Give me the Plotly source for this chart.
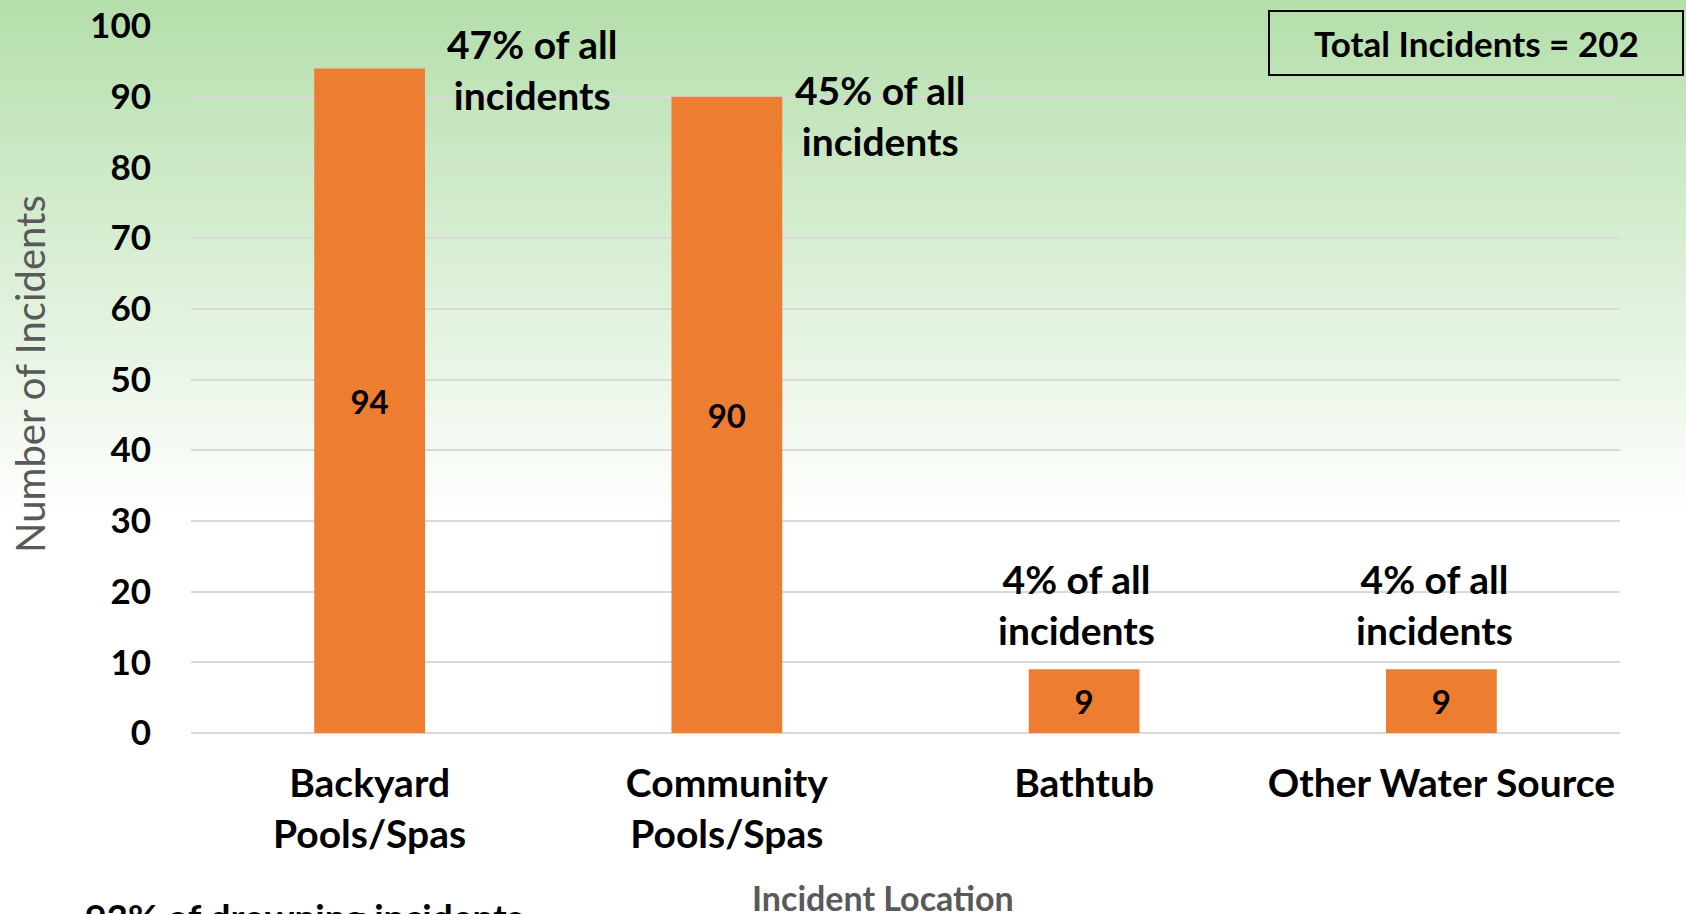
import plotly.graph_objects as go

categories = ["Backyard<br>Pools/Spas", "Community<br>Pools/Spas", "Bathtub", "Other Water Source"]
incidents = [94, 90, 9, 9]
pct_labels = ["47% of all<br>incidents", "45% of all<br>incidents", "4% of all<br>incidents", "4% of all<br>incidents"]
y_ticks = [0, 10, 20, 30, 40, 50, 60, 70, 80, 90, 100]
total_text = "Total Incidents = 202"
bullet_text = "93% of drowning incidents"

W, H = 1686, 914
L, R, T, B = 191, 66, 26, 181
plot_w = W - L - R
plot_h = H - T - B
FONT = "Lato, 'Open Sans', sans-serif"

fig = go.Figure()
fig.add_trace(go.Bar(
    x=categories, y=incidents, width=0.31,
    marker=dict(color="#ED7D31", line=dict(width=0)),
    text=[str(v) for v in incidents], textposition="inside",
    insidetextanchor="middle",
    textfont=dict(family=FONT, size=33, color="black", weight="bold"),
    hoverinfo="x+y",
))

# gradient background (green at top fading to white)
shapes = []
top = (180, 222, 170)
end_px = 520
step = 5
for p in range(0, end_px, step):
    t = min(1.0, (p + step) / end_px)
    c = tuple(int(round(top[i] + (255 - top[i]) * t)) for i in range(3))
    y1 = (H - B - p) / plot_h
    y0 = (H - B - (p + step + 1)) / plot_h
    shapes.append(dict(type="rect", xref="paper", yref="paper",
                       x0=-L / plot_w, x1=(W - L) / plot_w, y0=y0, y1=y1,
                       fillcolor="rgb(%d,%d,%d)" % c, line=dict(width=0), layer="below"))

# total box
shapes.append(dict(type="rect", xref="paper", yref="paper",
                   x0=(1269 - L) / plot_w, x1=(1683 - L) / plot_w,
                   y0=(H - B - 75) / plot_h, y1=(H - B - 11) / plot_h,
                   line=dict(color="black", width=2), fillcolor="rgba(0,0,0,0)", layer="above"))

pfont = dict(family=FONT, size=39, color="black", weight="bold")
annotations = [
    dict(x=0.455, y=93.9, xref="x", yref="y", text=pct_labels[0], showarrow=False,
         xanchor="center", yanchor="middle", font=pfont),
    dict(x=1.43, y=87.3, xref="x", yref="y", text=pct_labels[1], showarrow=False,
         xanchor="center", yanchor="middle", font=pfont),
    dict(x=1.98, y=18.2, xref="x", yref="y", text=pct_labels[2], showarrow=False,
         xanchor="center", yanchor="middle", font=pfont),
    dict(x=2.98, y=18.2, xref="x", yref="y", text=pct_labels[3], showarrow=False,
         xanchor="center", yanchor="middle", font=pfont),
    dict(x=(1476 - L) / plot_w, y=(H - B - 43) / plot_h, xref="paper", yref="paper",
         text=total_text, showarrow=False, xanchor="center", yanchor="middle",
         font=dict(family=FONT, size=35, color="black", weight="bold")),
    dict(x=(30 - L) / plot_w, y=(H - B - 374) / plot_h, xref="paper", yref="paper",
         text="Number of Incidents", textangle=-90, showarrow=False,
         xanchor="center", yanchor="middle",
         font=dict(family=FONT, size=40, color="#595959")),
    dict(x=(883 - L) / plot_w, y=(H - B - 897) / plot_h, xref="paper", yref="paper",
         text="Incident Location", showarrow=False, xanchor="center", yanchor="middle",
         font=dict(family=FONT, size=34, color="#595959", weight="bold")),
    dict(x=(18 - L) / plot_w, y=(H - B - 898) / plot_h, xref="paper", yref="paper",
         text="•", showarrow=False, xanchor="left", yanchor="top",
         font=dict(family=FONT, size=30, color="#7f7f7f")),
    dict(x=(83 - L) / plot_w, y=(H - B - 892) / plot_h, xref="paper", yref="paper",
         text=bullet_text, showarrow=False, xanchor="left", yanchor="top",
         font=dict(family=FONT, size=37, color="black", weight="bold")),
]

fig.update_layout(
    width=W, height=H,
    margin=dict(l=L, r=R, t=T, b=B, pad=0, autoexpand=False),
    paper_bgcolor="white", plot_bgcolor="rgba(0,0,0,0)",
    showlegend=False, bargap=0.69,
    shapes=shapes, annotations=annotations,
    font=dict(family=FONT, color="black"),
)
fig.update_xaxes(
    automargin=False,
    showgrid=False, showline=False, zeroline=False,
    ticks="outside", ticklen=16, tickcolor="rgba(0,0,0,0)",
    tickfont=dict(family=FONT, size=39, color="black", weight="bold"),
)
fig.update_yaxes(
    automargin=False,
    range=[0, 100], tickvals=y_ticks, ticktext=[str(v) for v in y_ticks],
    showgrid=True, gridcolor="#d9d9d9", gridwidth=2,
    zeroline=True, zerolinecolor="#d9d9d9", zerolinewidth=2,
    showline=False, ticks="outside", ticklen=32, tickcolor="rgba(0,0,0,0)",
    tickfont=dict(family=FONT, size=35, color="black", weight="bold"),
)

fig.write_html(
    "out.html",
    config={"displayModeBar": False},
    post_script=(
        "document.body.style.margin='0';document.body.style.padding='0';"
        "document.documentElement.style.overflow='hidden';"
        "var d=document.getElementById('{plot_id}');"
        "d.style.position='fixed';d.style.top='0px';d.style.left='0px';"
    ),
)
